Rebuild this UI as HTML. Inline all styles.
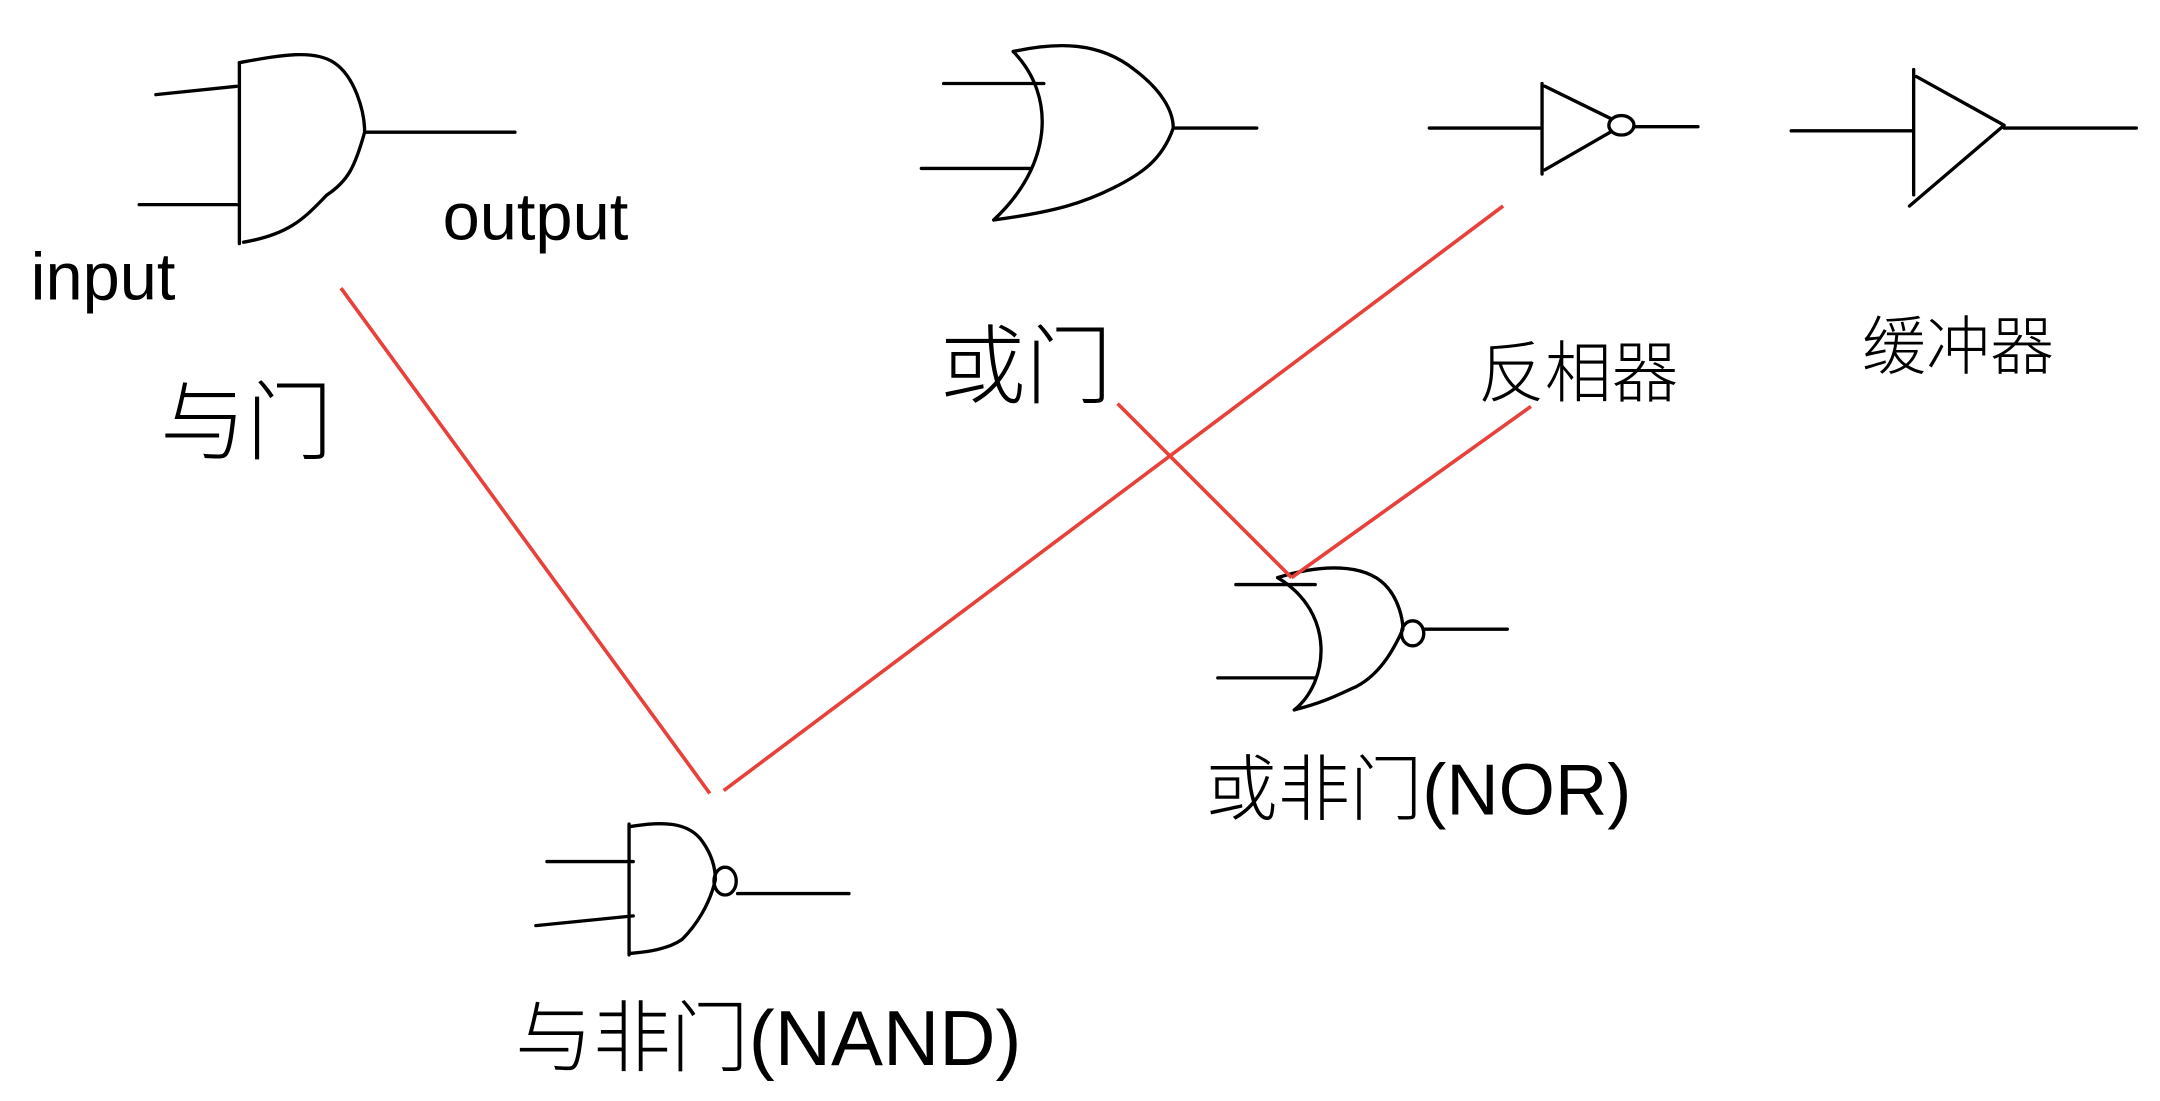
<!DOCTYPE html>
<html><head><meta charset="utf-8"><style>
html,body{margin:0;padding:0;background:#fff;width:2160px;height:1101px;overflow:hidden}
svg{display:block}
text{font-family:"Liberation Sans","Noto Sans CJK SC",sans-serif;fill:#000;font-weight:300}
</style></head><body>
<svg width="2160" height="1101" viewBox="0 0 1552 791" preserveAspectRatio="none">
<g fill="none" stroke="#000" stroke-width="2.4" stroke-linecap="round" stroke-linejoin="round">
 <g>
  <path d="M112 68 L170 62 M100 147 L170 147 M172 45 L172 175"/>
  <path d="M172 45 C200 40 225 35 240 45 C255 55 262 80 262 95 C255 120 250 130 235 140 C220 155 210 168 175 174"/>
  <path d="M262 95 L370 95"/>
 </g>
 <g>
  <path d="M678 60 L750 60 M662 121 L740 121"/>
  <path d="M728 37 C760 70 755 120 714 158"/>
  <path d="M728 37 C760 30 790 30 815 50 C835 65 843 80 843 92 C835 115 820 125 800 135 C780 145 760 152 714 158"/>
  <path d="M843 92 L903 92"/>
 </g>
 <g>
  <path d="M1027 92 L1108 92 M1108 60 L1108 125 M1110 62 L1157 85 M1110 122 L1157 95"/>
  <ellipse cx="1165" cy="90" rx="9" ry="7"/>
  <path d="M1174 91 L1220 91"/>
 </g>
 <g>
  <path d="M1287 94 L1375 94 M1375 50 L1375 140 M1377 55 L1440 90 L1372 148 M1440 92 L1535 92"/>
 </g>
 <g>
  <path d="M888 420 L945 420 M875 487 L945 487"/>
  <path d="M918 415 C960 440 955 490 930 510"/>
  <path d="M918 415 C950 405 980 405 995 420 C1005 430 1008 445 1008 452 C1000 470 990 485 975 493 C960 500 950 505 930 510"/>
  <ellipse cx="1015" cy="455" rx="8" ry="9"/>
  <path d="M1023 452 L1083 452"/>
 </g>
 <g>
  <path d="M393 619 L455 619 M385 665 L455 658 M452 592 L452 686"/>
  <path d="M452 594 C475 590 495 590 505 605 C512 615 514 625 514 632 C510 650 500 665 490 675 C480 682 465 684 452 685"/>
  <ellipse cx="521" cy="633" rx="8" ry="10"/>
  <path d="M530 642 L610 642"/>
 </g>
</g>
<g stroke="#e8403a" stroke-width="2.6" fill="none">
 <line x1="245" y1="207" x2="510" y2="570"/>
 <line x1="1080" y1="148" x2="520" y2="568"/>
 <line x1="803" y1="290" x2="928" y2="415"/>
 <line x1="1100" y1="292" x2="928" y2="415"/>
</g>
<text x="22" y="215" font-size="48">input</text>
<text x="318" y="172" font-size="48">output</text>
<text x="115" y="325" font-size="62">与门</text>
<text x="675" y="285" font-size="62">或门</text>
<text x="1062" y="285" font-size="48">反相器</text>
<text x="1338" y="265" font-size="46">缓冲器</text>
<text x="866" y="585" font-size="52">或非门(NOR)</text>
<text x="370" y="765" font-size="56">与非门(NAND)</text>
</svg>
</body></html>
